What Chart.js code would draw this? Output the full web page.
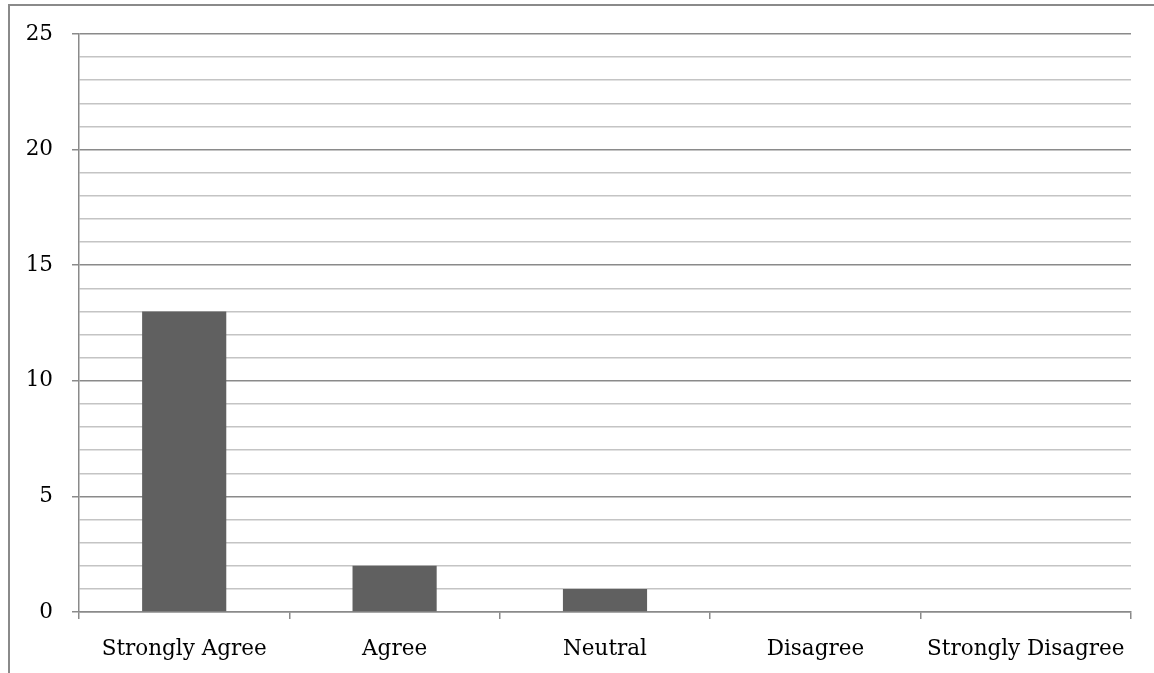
<!DOCTYPE html>
<html><head><meta charset="utf-8">
<script src="https://cdn.jsdelivr.net/npm/chart.js@4.4.0/dist/chart.umd.min.js"></script>
<style>html,body{margin:0;padding:0;background:#fff;}#wrap{width:1154px;height:673px;position:relative;}</style>
</head><body><div id="wrap"><canvas id="c" width="1154" height="673"></canvas></div>
<script>
const categories = ["Strongly Agree", "Agree", "Neutral", "Disagree", "Strongly Disagree"];
const values = [13, 2, 1, 0, 0];
const yMin = 0, yMax = 25, yMajorStep = 5;

const FONT = "'DejaVu Serif', serif";
const frame = {
  id: 'frame',
  beforeDraw(chart) {
    const c = chart.ctx;
    c.save();
    c.fillStyle = '#fff';
    c.fillRect(0, 0, chart.width, chart.height);
    c.strokeStyle = '#8a8a8a';
    c.lineWidth = 2;
    c.beginPath();
    c.moveTo(9, chart.height);
    c.lineTo(9, 5);
    c.lineTo(chart.width, 5);
    c.stroke();
    c.restore();
  }
};

new Chart(document.getElementById('c'), {
  type: 'bar',
  data: {
    labels: categories,
    datasets: [{ data: values, backgroundColor: '#606060', borderWidth: 0,
      barPercentage: 0.8, categoryPercentage: 0.5 }]
  },
  options: {
    responsive: false, animation: false, devicePixelRatio: 1,
    layout: { padding: { left: 0, top: 34, right: 23, bottom: 0 } },
    plugins: { legend: { display: false }, tooltip: { enabled: false } },
    scales: {
      x: {
        afterFit(s) { s.height = 61; },
        grid: { offset: true, drawOnChartArea: false, color: '#8a8a8a', tickLength: 7, lineWidth: 1.5 },
        border: { color: '#8a8a8a', width: 1.5 },
        ticks: { color: '#000', font: { family: FONT, size: 21.5 }, padding: 18, maxRotation: 0, autoSkip: false }
      },
      y: {
        min: yMin, max: yMax,
        afterFit(s) { s.width = 79; },
        ticks: { stepSize: 1, autoSkip: false, color: '#000', font: { family: FONT, size: 21.5 }, padding: 19,
          callback: v => (v % yMajorStep === 0 ? v : '') },
        grid: {
          tickLength: 7,
          color: ctx => (ctx.tick && ctx.tick.value % yMajorStep === 0 ? '#8a8a8a' : '#c4c4c4'),
          tickColor: ctx => (ctx.tick && ctx.tick.value % yMajorStep === 0 ? '#8a8a8a' : 'rgba(0,0,0,0)'),
          lineWidth: 1.5
        },
        border: { color: '#8a8a8a', width: 1.5 }
      }
    }
  },
  plugins: [frame]
});
</script></body></html>
